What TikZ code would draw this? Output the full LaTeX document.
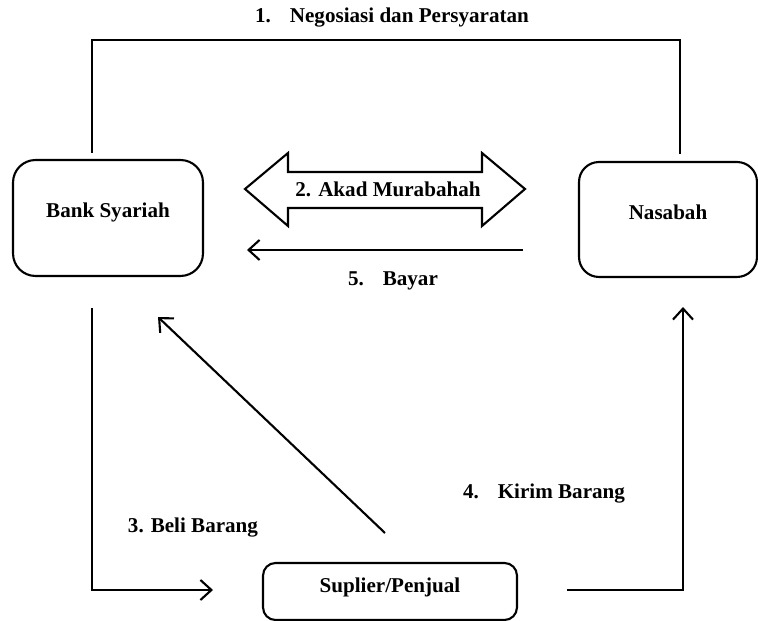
\documentclass[tikz,border=0pt]{standalone}
\usepackage{fontspec}
\setmainfont{Liberation Serif}
\usetikzlibrary{arrows.meta}

\tikzset{
	box/.style={draw, rounded corners=0.45cm, line width=1.2pt, text height=0.3cm, text depth=0.31cm, font=\fontsize{12}{14}\selectfont\bfseries},
	lbl/.style={font=\fontsize{12}{14}\selectfont\bfseries},
	flow/.style={line width=1.2pt, -{Straight Barb[length=2.2mm, width=4mm, line width=1.2pt]}},
	plain/.style={line width=1.2pt}
}

\begin{document}
\begin{tikzpicture}[x=0.02cm, y=-0.02cm]
		\useasboundingbox (0,0) rectangle (758,621);

		% parties
		\node[box, minimum width=3.8cm, minimum height=2.32cm] (bank) at (108,218) {Bank Syariah};
		\node[box, minimum width=3.56cm, minimum height=2.3cm, rounded corners=0.4cm] (nasabah) at (668,219.5) {Nasabah};
		\node[box, minimum width=5.08cm, minimum height=1.14cm, rounded corners=0.25cm, text depth=0.26cm] (suplier) at (390,591.5) {Suplier/Penjual};

		% 1. negosiasi
		\coordinate (n1) at (92,153);
		\coordinate (n2) at (680,154);
		\draw[plain] (n1) -- (n1 |- 0,40) -- (n2 |- 0,40) -- (n2);
		\node[lbl] (negosiasi) at (392,18) {1.\hspace{0.9em}Negosiasi dan Persyaratan};

		% 2. akad
		\draw[plain] (245,189) -- (288,153) -- (288,172) -- (482,172) -- (482,153) -- (525,189)
			-- (482,226) -- (482,208) -- (288,208) -- (288,226) -- cycle;
		\node[lbl] (akad) at (388,189) {2. Akad Murabahah};

		% 5. bayar
		\coordinate (b1) at (523,250);
		\coordinate (b2) at (247,250);
		\draw[flow] (b1) -- (b2);
		\node[lbl] (bayar) at (393,281) {5.\hspace{0.9em}Bayar};

		% 3. beli barang
		\coordinate (s1) at (92,308);
		\coordinate (s2) at (213,590);
		\draw[flow] (s1) -- (s1 |- s2) -- (s2);
		\node[lbl] (beli) at (193,528) {3. Beli Barang};

		% barang ke bank
		\coordinate (d1) at (385,533);
		\coordinate (d2) at (158,317);
		\draw[flow] (d1) -- (d2);

		% 4. kirim barang
		\coordinate (k1) at (567,590);
		\coordinate (k2) at (683,307);
		\draw[flow] (k1) -- (k2 |- k1) -- (k2);
		\node[lbl] (kirim) at (544,494) {4.\hspace{0.9em}Kirim Barang};

	\end{tikzpicture}
\end{document}
